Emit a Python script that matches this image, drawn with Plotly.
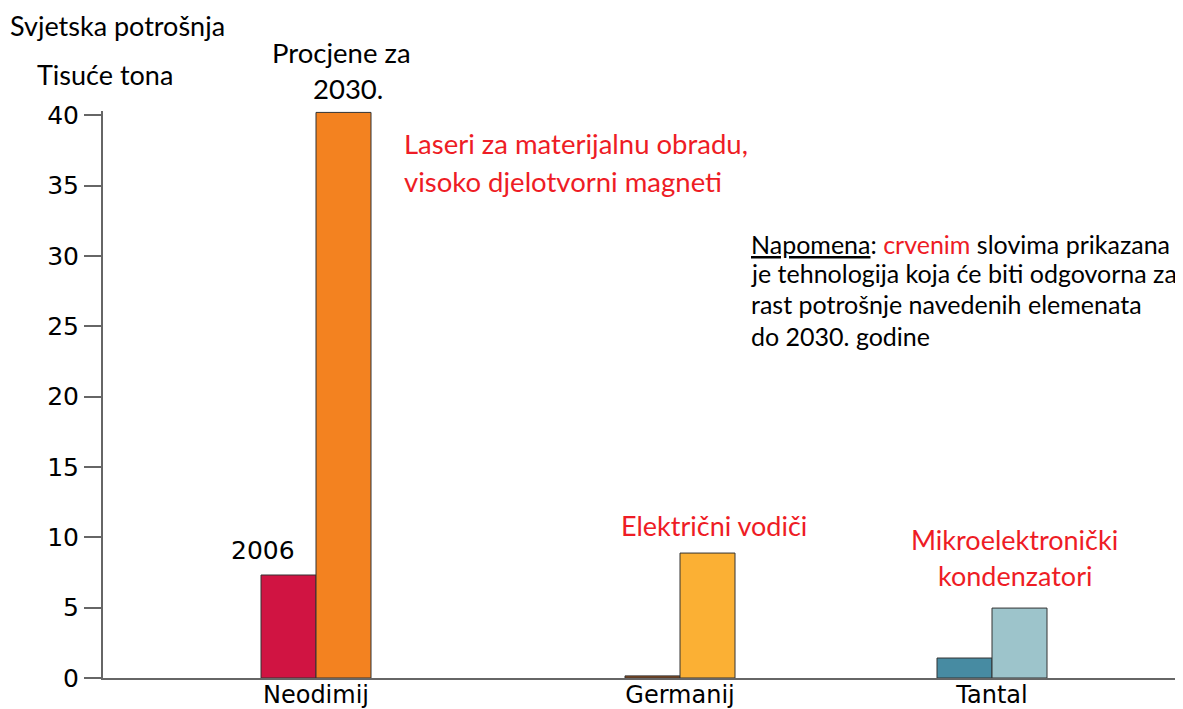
import plotly.graph_objects as go

# data
elements = ["Neodimij", "Germanij", "Tantal"]
x_pos = [2.13, 5.77, 8.89]
values_2006 = [7.32, 0.15, 1.42]
values_2030 = [40.2, 8.88, 4.97]
colors_2006 = ["#D01442", "#8B4A1C", "#478BA2"]
colors_2030 = ["#F38220", "#FBB034", "#9DC4CB"]
y_ticks = [0, 5, 10, 15, 20, 25, 30, 35, 40]

note_lines = [
    "<u>Napomena</u>: <span style='color:#EE1C25'>crvenim</span> slovima prikazana",
    "je tehnologija koja će biti odgovorna za",
    "rast potrošnje navedenih elemenata",
    "do 2030. godine",
]

RED = "#EE1C25"
TXT = "Lato"
NUM = "DejaVu Sans"

fig = go.Figure()
fig.add_trace(go.Bar(
    x=x_pos, y=values_2006, width=0.55, offset=-0.55,
    marker=dict(color=colors_2006, line=dict(color="#333333", width=1)),
    cliponaxis=False, showlegend=False, hoverinfo="y",
))
fig.add_trace(go.Bar(
    x=x_pos, y=values_2030, width=0.55, offset=0,
    marker=dict(color=colors_2030, line=dict(color="#333333", width=1)),
    cliponaxis=False, showlegend=False, hoverinfo="y",
))

def note(x, y, text, size=27.5, color="black", anchor="left", family=TXT, yanchor="middle"):
    fig.add_annotation(x=x, y=y, xref="paper", yref="paper", text=text, showarrow=False,
                       xanchor=anchor, yanchor=yanchor, borderpad=0,
                       font=dict(family=family, size=size, color=color))

note(-0.0870, 1.1817, "Svjetska potrošnja", size=27, yanchor="top")
note(-0.0620, 1.0635, "Tisuće tona", size=27)
note(0.2204, 1.1023, "Procjene za", anchor="center", size=27.5)
note(0.2269, 1.0390, "2030.", anchor="center", size=27.5)
note(0.1481, 0.2240, "2006", anchor="center", size=25, family=NUM)
note(0.2780, 0.9418, "Laseri za materijalnu obradu,", color=RED)
note(0.2780, 0.8748, "visoko djelotvorni magneti", color=RED)
note(0.5657, 0.2698, "Električni vodiči", color=RED, size=27, anchor="center")
note(0.8444, 0.2451, "Mikroelektronički", color=RED, size=27, anchor="center")
note(0.8444, 0.1816, "kondenzatori", color=RED, size=27, anchor="center")
for line, yy in zip(note_lines, [0.7654, 0.7143, 0.6596, 0.6031]):
    note(0.5990, yy, line, size=25)

fig.update_layout(
    width=1175, height=701,
    margin=dict(l=95, r=0, t=103, b=31),
    plot_bgcolor="white", paper_bgcolor="white",
    barmode="overlay",
)
fig.update_xaxes(
    range=[0, 10.8], tickvals=x_pos, ticktext=elements,
    showline=True, linecolor="#666666", linewidth=2,
    showgrid=False, zeroline=False, ticks="", automargin=False,
    ticklabelstandoff=-6,
    tickfont=dict(family=NUM, size=24, color="black"),
)
fig.update_yaxes(
    range=[0, 40.3], tickvals=y_ticks,
    showline=True, linecolor="#666666", linewidth=2,
    showgrid=False, zeroline=False, automargin=False,
    ticks="outside", ticklen=17, tickwidth=2, tickcolor="#666666",
    tickfont=dict(family=NUM, size=25, color="black"),
)

fig.write_html("out.html")
